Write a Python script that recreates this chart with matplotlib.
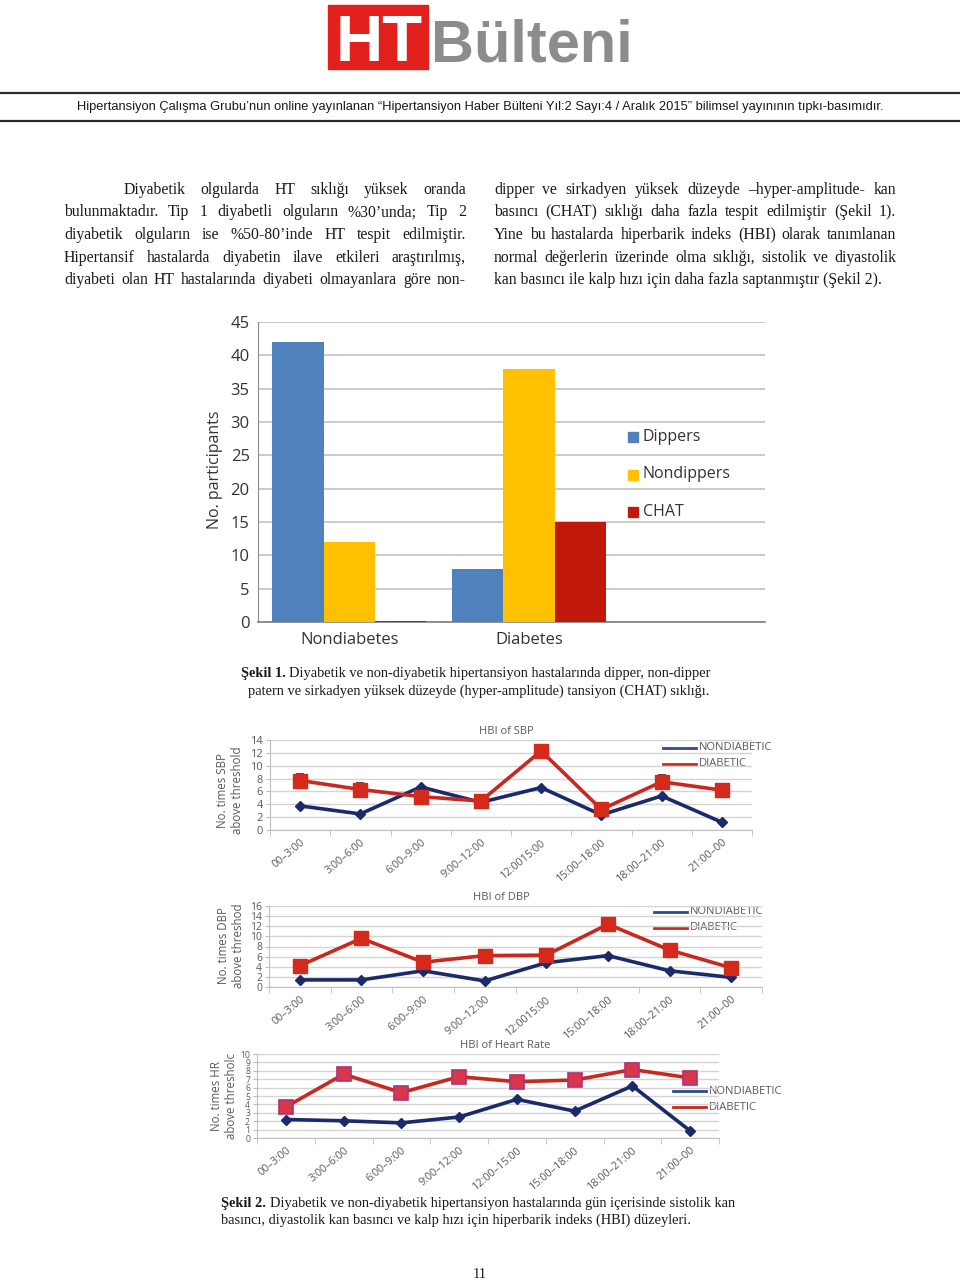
import matplotlib
matplotlib.use('Agg')
import matplotlib.pyplot as plt
from matplotlib.patches import Rectangle
import numpy as np

# ---------------- DATA ----------------
groups = ['Nondiabetes', 'Diabetes']
dippers = [42, 8]
nondippers = [12, 38]
chat = [0.2, 15]
bar_series = ['Dippers', 'Nondippers', 'CHAT']
bar_yticks = [0, 5, 10, 15, 20, 25, 30, 35, 40, 45]

slots_bp = ['00–3:00', '3:00–6:00', '6:00–9:00', '9:00–12:00', '12:0015:00',
            '15:00–18:00', '18:00–21:00', '21:00–00']
slots_hr = ['00–3:00', '3:00–6:00', '6:00–9:00', '9:00–12:00', '12:00–15:00',
            '15:00–18:00', '18:00–21:00', '21:00–00']

sbp_nondiab = [3.75, 2.5, 6.7, 4.3, 6.6, 2.35, 5.3, 1.2]
sbp_diab = [7.7, 6.3, 5.2, 4.5, 12.3, 3.2, 7.5, 6.2]
sbp_diab_err = [1.0, 1.0, 1.0, 1.0, 1.0, 1.0, 1.0, 1.0]

dbp_nondiab = [1.4, 1.4, 3.2, 1.2, 4.8, 6.2, 3.2, 1.9]
dbp_diab = [4.2, 9.6, 4.9, 6.2, 6.3, 12.4, 7.3, 3.8]
dbp_diab_err = [1.0, 1.0, 1.0, 1.0, 0.8, 0.9, 1.0, 1.0]

hr_nondiab = [2.2, 2.05, 1.8, 2.5, 4.6, 3.2, 6.2, 0.85]
hr_diab = [3.7, 7.6, 5.4, 7.3, 6.7, 6.9, 8.15, 7.15]

legend_lines = ['NONDIABETIC', 'DIABETIC']

# ---------------- FIGURE ----------------
W, H = 960, 1279
fig = plt.figure(figsize=(W / 100, H / 100), dpi=100)
fig.patch.set_facecolor('white')
ov = fig.add_axes([0, 0, 1, 1])
ov.set_xlim(0, W)
ov.set_ylim(H, 0)
ov.axis('off')
R = fig.canvas.get_renderer()


def rect(x0, y0, x1, y1):
    return [x0 / W, 1 - y1 / H, (x1 - x0) / W, (y1 - y0) / H]


def width_of(s, fs, **kw):
    t = ov.text(0, 0, s, fontsize=fs, **kw)
    w = t.get_window_extent(R).width
    t.remove()
    return w


def fit_fs(s, target, **kw):
    return 10 * target / width_of(s, 10, **kw)


SERIF = 'Liberation Serif'
SANS = 'Open Sans'
GRAYTXT = '#595959'

# ---------------- HEADER ----------------
ov.add_patch(Rectangle((328, 5), 100, 64, color='#e3211c', zorder=1))
fs_ht = fit_fs('HT', 86, family='Liberation Sans', fontweight='bold')
ov.text(379, 61, 'HT', color='white', fontsize=fs_ht, family='Liberation Sans',
        fontweight='bold', ha='center', va='baseline', zorder=2)
fs_bu = fit_fs('Bülteni', 202, family='Liberation Sans', fontweight='bold')
ov.text(431, 62, 'Bülteni', color='#8c8c8c', fontsize=fs_bu, family='Liberation Sans',
        fontweight='bold', ha='left', va='baseline')

ov.plot([0, W], [93, 93], color='#2b2b2b', lw=1.6)
ov.plot([0, W], [121, 121], color='#2b2b2b', lw=1.6)
head = ('Hipertansiyon Çalışma Grubu’nun online yayınlanan “Hipertansiyon Haber Bülteni '
        'Yıl:2 Sayı:4 / Aralık 2015” bilimsel yayınının tıpkı-basımıdır.')
hfam = ['Liberation Sans Narrow', 'Liberation Sans']
fs_head = fit_fs(head, 806, family=hfam)
ov.text(480, 107, head, fontsize=fs_head, family=hfam, ha='center', va='center', color='#1a1a1a')

# ---------------- BODY TEXT ----------------
body_ref = 'kan basıncı ile kalp hızı için daha fazla saptanmıştır (Şekil 2).'
fs_body = fit_fs(body_ref, 392, family=SERIF)


def justify(line, x0, x1, y, fs, family, just=True):
    words = line.split(' ')
    ts = [ov.text(x0, y, w, fontsize=fs, family=family, ha='left', va='baseline', color='#1a1a1a')
          for w in words]
    if not just or len(words) < 2:
        t0 = ts[0]
        for t in ts[1:]:
            t.remove()
        t0.set_text(line)
        return
    ws = [t.get_window_extent(R).width for t in ts]
    gap = (x1 - x0 - sum(ws)) / (len(ws) - 1)
    x = x0
    for t, w in zip(ts, ws):
        t.set_x(x)
        x += w + gap


left_lines = ['Diyabetik olgularda HT sıklığı yüksek oranda',
              'bulunmaktadır. Tip 1 diyabetli olguların %30’unda; Tip 2',
              'diyabetik olguların ise %50-80’inde HT tespit edilmiştir.',
              'Hipertansif hastalarda diyabetin ilave etkileri araştırılmış,',
              'diyabeti olan HT hastalarında diyabeti olmayanlara göre non-']
right_lines = ['dipper ve sirkadyen yüksek düzeyde –hyper-amplitude- kan',
               'basıncı (CHAT) sıklığı daha fazla tespit edilmiştir (Şekil 1).',
               'Yine bu hastalarda hiperbarik indeks (HBI) olarak tanımlanan',
               'normal değerlerin üzerinde olma sıklığı, sistolik ve diyastolik',
               'kan basıncı ile kalp hızı için daha fazla saptanmıştır (Şekil 2).']
baselines = [194, 216.5, 239, 261.5, 284]
for i, (ln, yb) in enumerate(zip(left_lines, baselines)):
    justify(ln, 124 if i == 0 else 64, 466, yb, fs_body, SERIF)
for i, (ln, yb) in enumerate(zip(right_lines, baselines)):
    justify(ln, 494, 896, yb, fs_body, SERIF, just=(i < 4))


def caption(x, y, bold, rest, fs):
    t = ov.text(x, y, bold, fontsize=fs, family=SERIF, fontweight='bold', ha='left',
                va='baseline', color='#1a1a1a')
    w = t.get_window_extent(R).width
    ov.text(x + w + fs * 0.35, y, rest, fontsize=fs, family=SERIF, ha='left',
            va='baseline', color='#1a1a1a')


fs_cap = fit_fs('patern ve sirkadyen yüksek düzeyde (hyper-amplitude) tansiyon (CHAT) sıklığı.',
                464, family=SERIF)
caption(241, 677, 'Şekil 1.', 'Diyabetik ve non-diyabetik hipertansiyon hastalarında dipper, non-dipper', fs_cap)
ov.text(248, 695, 'patern ve sirkadyen yüksek düzeyde (hyper-amplitude) tansiyon (CHAT) sıklığı.',
        fontsize=fs_cap, family=SERIF, ha='left', va='baseline', color='#1a1a1a')
caption(221, 1207, 'Şekil 2.', 'Diyabetik ve non-diyabetik hipertansiyon hastalarında gün içerisinde sistolik kan', fs_cap)
ov.text(221, 1224, 'basıncı, diyastolik kan basıncı ve kalp hızı için hiperbarik indeks (HBI) düzeyleri.',
        fontsize=fs_cap, family=SERIF, ha='left', va='baseline', color='#1a1a1a')
ov.text(480, 1278, '11', fontsize=fs_cap, family=SERIF, ha='center', va='baseline', color='#1a1a1a')

# ---------------- BAR CHART ----------------
axb = fig.add_axes(rect(258, 322, 765, 622))
xg = np.arange(len(groups))
bw = 0.285
bcolors = ['#4f81bd', '#ffc000', '#c0190c']
for k, (vals, col) in enumerate(zip([dippers, nondippers, chat], bcolors)):
    axb.bar(xg + (k - 1) * bw, vals, width=bw, color=col, zorder=3)
axb.set_xlim(-0.508, 2.313)
axb.set_ylim(0, 45)
axb.set_yticks(bar_yticks)
axb.set_yticklabels([str(v) for v in bar_yticks], family=SANS, fontsize=12, color='#333333')
axb.set_xticks(xg)
axb.set_xticklabels(groups, family=SANS, fontsize=12, color='#333333')
axb.tick_params(axis='y', length=0, pad=6)
axb.tick_params(axis='x', length=0, pad=7)
axb.grid(axis='y', color='#bdbdbd', lw=1.1, zorder=0)
for s in ['top', 'right']:
    axb.spines[s].set_visible(False)
axb.spines['left'].set_color('#8c8c8c')
axb.spines['bottom'].set_color('#7f7f7f')
axb.spines['bottom'].set_linewidth(1.2)
axb.set_facecolor('none')
ov.text(215, 470, 'No. participants', rotation=90, family=SANS, fontsize=11.5, ha='center',
        va='center', color='#333333')
for k, (lab, col) in enumerate(zip(bar_series, bcolors)):
    yy = 437 + k * 37.5
    ov.add_patch(Rectangle((628, yy - 5), 10, 10, color=col))
    ov.text(643, yy, lab, family=SANS, fontsize=11.5, ha='left', va='center', color='#333333')

# ---------------- LINE CHARTS ----------------
NAVY = '#1b2a6b'
RED = '#c8281e'


def line_chart(r, labels, nd, d, derr, ymax, ystep, title, title_xy, ylab, ylab_xy,
               leg_x, leg_y, hr=False, ytfs=8):
    ax = fig.add_axes(rect(*r))
    x = np.arange(len(labels))
    ax.plot(x, nd, color=NAVY, lw=2.6, marker='D', ms=5.5, mfc=NAVY, mec=NAVY, zorder=4)
    if derr is not None:
        ax.errorbar(x, d, yerr=derr, fmt='none', ecolor='#5a1a12', elinewidth=1.2,
                    capsize=3, capthick=1.2, zorder=3)
    if hr:
        ax.plot(x, d, color=RED, lw=2.6, marker='s', ms=9.5, mfc='#d7374b', mec='#b0307a',
                mew=1.2, zorder=5)
    else:
        ax.plot(x, d, color=RED, lw=2.6, marker='s', ms=10, mfc='#d42a1c', mec='#d42a1c', zorder=5)
    ax.set_xlim(-0.5, len(labels) - 0.5)
    ax.set_ylim(0, ymax)
    yt = np.arange(0, ymax + 0.01, ystep)
    ax.set_yticks(yt)
    ax.set_yticklabels([str(int(v)) for v in yt], family=SANS, fontsize=ytfs, color=GRAYTXT)
    ax.set_xticks(x)
    ax.set_xticklabels(labels, family=SANS, fontsize=7.8, color=GRAYTXT, rotation=40,
                       ha='right', rotation_mode='anchor')
    ax.set_xticks(np.arange(-0.5, len(labels)), minor=True)
    ax.tick_params(axis='x', which='major', length=0, pad=5)
    ax.tick_params(axis='x', which='minor', length=4, color='#bfbfbf', direction='out')
    ax.tick_params(axis='y', length=3, color='#bfbfbf', pad=2)
    ax.grid(axis='y', color='#d4d4d4', lw=1.0, zorder=0)
    for s in ['top', 'right']:
        ax.spines[s].set_visible(False)
    ax.spines['left'].set_color('#bfbfbf')
    ax.spines['bottom'].set_color('#bfbfbf')
    ax.set_facecolor('none')
    ov.text(title_xy[0], title_xy[1], title, family=SANS, fontsize=8, color=GRAYTXT,
            ha='center', va='center')
    ov.text(ylab_xy[0], ylab_xy[1], ylab, family=SANS, fontsize=8.3, color=GRAYTXT,
            rotation=90, ha='center', va='center', linespacing=1.15)
    for k, (lab, col) in enumerate(zip(legend_lines, ['#2e4a8c', RED])):
        yy = leg_y + k * 16
        ov.plot([leg_x, leg_x + 33], [yy, yy], color=col, lw=2.0)
        ov.text(leg_x + 36, yy, lab, family=SANS, fontsize=8, color=GRAYTXT, ha='left',
                va='center')
    return ax


line_chart((270, 740, 752, 830), slots_bp, sbp_nondiab, sbp_diab, sbp_diab_err, 14, 2,
           'HBI of SBP', (506, 731), 'No. times SBP\nabove threshold', (230, 790), 663, 748)
line_chart((269, 906, 762, 987), slots_bp, dbp_nondiab, dbp_diab, dbp_diab_err, 16, 2,
           'HBI of DBP', (501, 898), 'No. times DBP\nabove threshod', (231, 946), 654, 912,
           ytfs=7.5)
line_chart((257, 1054, 719, 1138), slots_hr, hr_nondiab, hr_diab, None, 10, 1,
           'HBI of Heart Rate', (505, 1046), 'No. times HR\nabove thresholc', (224, 1096),
           673, 1091, hr=True, ytfs=6.2)

fig.savefig('out.png', dpi=100, facecolor='white')
